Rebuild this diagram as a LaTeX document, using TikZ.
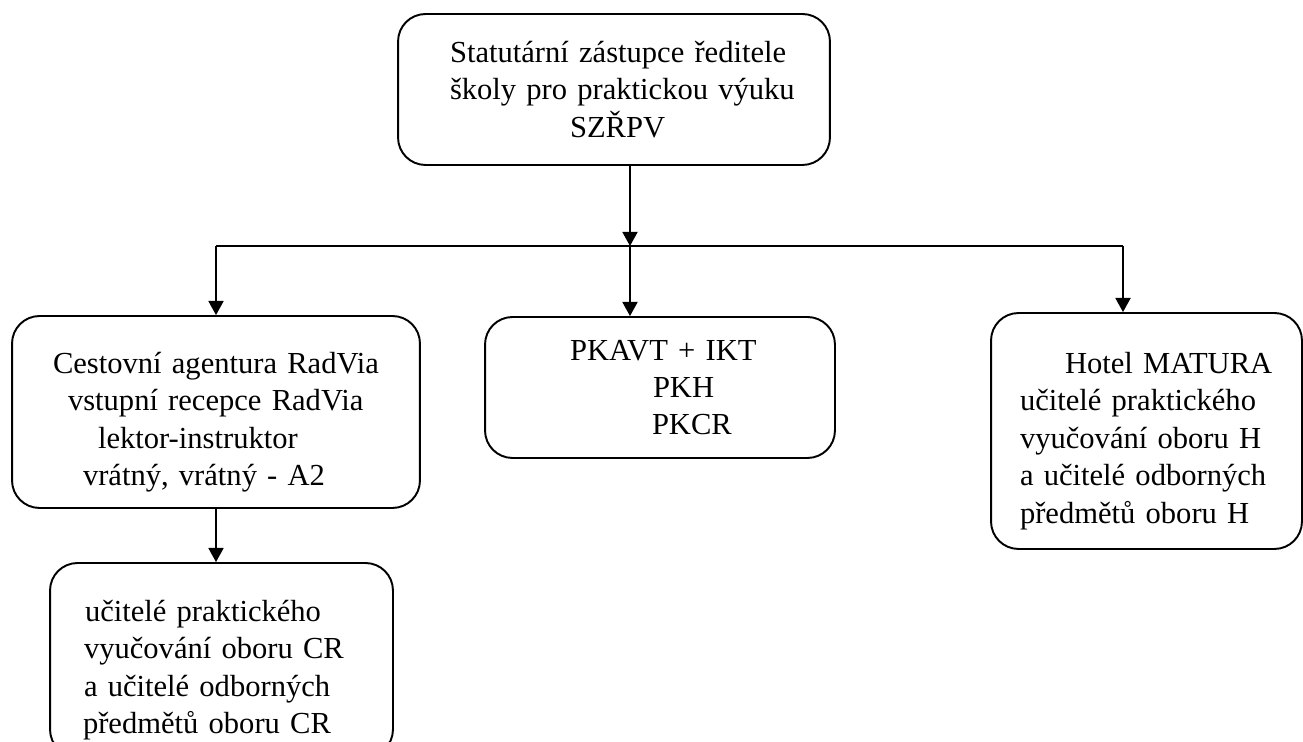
\documentclass[tikz,border=0pt]{standalone}
\usepackage{fontspec}
\setmainfont{Liberation Serif}
\usepackage{tikz}
\usetikzlibrary{arrows.meta, positioning}

\newcommand\lowfirst{\rule{0pt}{23.5pt}}

\tikzset{
  box/.style={draw, line width=1.1pt, rounded corners=0.55cm, inner sep=0pt,
    align=left, font=\fontsize{17.4}{21.3}\selectfont},
  conn/.style={line width=0.85pt, -{Triangle[length=8pt,width=8.6pt]}}
}

\begin{document}
\begin{tikzpicture}[x=0.02cm, y=-0.02cm]
  \useasboundingbox (0,0) rectangle (1303,742);

  % boxes
  \node[box, text width=8.64cm, minimum height=3.02cm] (zastupce) at (614,89.5)
    {\hspace*{1.04cm}Statutární zástupce ředitele\\
     \hspace*{1.04cm}školy pro praktickou výuku\\
     \hspace*{3.44cm}SZŘPV};
  \node[box, text width=8.16cm, minimum height=3.84cm] (agentura) at (216,412)
    {\lowfirst\hspace*{0.82cm}Cestovní agentura RadVia\\
     \hspace*{1.12cm}vstupní recepce RadVia\\
     \hspace*{1.72cm}lektor-instruktor\\
     \hspace*{1.42cm}vrátný, vrátný - A2};
  \node[box, text width=7cm, minimum height=2.82cm] (komise) at (660,387.5)
    {\hspace*{1.70cm}PKAVT + IKT\\
     \hspace*{3.36cm}PKH\\
     \hspace*{3.34cm}PKCR};
  \node[box, text width=6.22cm, minimum height=4.72cm] (hotel) at (1146.5,431)
    {\lowfirst\hspace*{1.48cm}Hotel MATURA\\
     \hspace*{0.58cm}učitelé praktického\\
     \hspace*{0.58cm}vyučování oboru H\\
     \hspace*{0.58cm}a učitelé odborných\\
     \hspace*{0.58cm}předmětů oboru H};
  \node[box, text width=6.86cm, minimum height=3.88cm] (ucitele) at (221.5,660)
    {\lowfirst\hspace*{0.70cm}učitelé praktického\\
     \hspace*{0.68cm}vyučování oboru CR\\
     \hspace*{0.68cm}a učitelé odborných\\
     \hspace*{0.66cm}předmětů oboru CR};

  % connectors
  \coordinate (split) at (630,246);
  \coordinate (hl) at (216,246);
  \coordinate (hr) at (1123,246);
  \draw[conn] (split |- zastupce.south) -- (split);
  \draw[line width=0.85pt] (hl) -- (hr);
  \draw[conn] (hl) -- (hl |- agentura.north);
  \draw[conn] (split) -- (split |- komise.north);
  \draw[conn] (hr) -- (hr |- hotel.north);
  \draw[conn] (agentura.south) -- (agentura.south |- ucitele.north);
\end{tikzpicture}
\end{document}
